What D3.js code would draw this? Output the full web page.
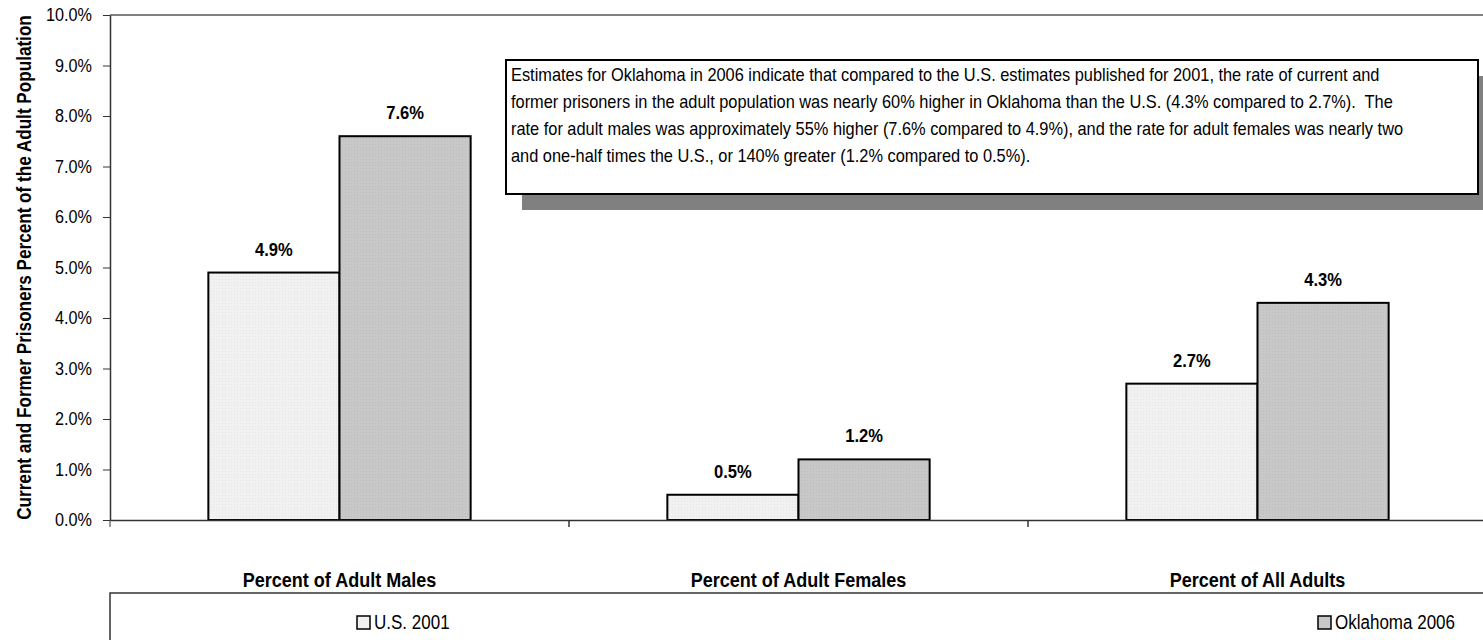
<!DOCTYPE html>
<html><head><meta charset="utf-8">
<script src="https://cdn.jsdelivr.net/npm/d3@7"></script>
<style>
body{margin:0;background:#fff;}
svg{display:block;font-family:"Liberation Sans Narrow","Arial Narrow","Liberation Sans",Arial,sans-serif;}
text{white-space:pre;}
</style></head>
<body><svg id="c" width="1483" height="640"></svg>
<script>
const categories = ["Percent of Adult Males","Percent of Adult Females","Percent of All Adults"];
const seriesNames = ["U.S. 2001","Oklahoma 2006"];
const us2001 = [4.9, 0.5, 2.7];
const oklahoma2006 = [7.6, 1.2, 4.3];
const yTicks = [0,1,2,3,4,5,6,7,8,9,10];
const yTitle = "Current and Former Prisoners Percent of the Adult Population";
const noteLines = [
 "Estimates for Oklahoma in 2006 indicate that compared to the U.S. estimates published for 2001, the rate of current and",
 "former prisoners in the adult population was nearly 60% higher in Oklahoma than the U.S. (4.3% compared to 2.7%).  The",
 "rate for adult males was approximately 55% higher (7.6% compared to 4.9%), and the rate for adult females was nearly two",
 "and one-half times the U.S., or 140% greater (1.2% compared to 0.5%)."
];
const colors = ["#f1f1f1","#c8c8c8"];

// emulate a condensed face by squeezing glyphs horizontally
function narrow(sel, f){
  sel.each(function(){
    const w = this.getComputedTextLength();
    d3.select(this).attr("textLength", w*f).attr("lengthAdjust","spacingAndGlyphs");
  });
}

const svg = d3.select("#c");
const L=110, R=1487, T=15, B=520;
const x = d3.scaleBand().domain(categories).range([L,R]).paddingInner(0).paddingOuter(0);
const x1 = d3.scaleBand().domain(seriesNames).range([0,x.bandwidth()]).paddingInner(0).paddingOuter(0.75);
const y = d3.scaleLinear().domain([0,10]).range([B,T]);

const defs = svg.append("defs");
["p0","p1"].forEach((id,i)=>{
  const p = defs.append("pattern").attr("id",id).attr("width",3).attr("height",3).attr("patternUnits","userSpaceOnUse");
  p.append("rect").attr("width",3).attr("height",3).attr("fill",colors[i]);
  p.append("rect").attr("width",1).attr("height",1).attr("fill",i? "#bcbcbc":"#e4e4e4");
});

// top border
svg.append("line").attr("x1",L).attr("x2",1483).attr("y1",T).attr("y2",T).attr("stroke","#808080").attr("stroke-width",2);

// y axis
const ya = svg.append("g").attr("transform",`translate(${L},0)`)
  .call(d3.axisLeft(y).tickValues(yTicks).tickFormat(d=>d.toFixed(1)+"%").tickSize(7).tickSizeOuter(0));
ya.select(".domain").attr("stroke","#333").attr("stroke-width",1.5);
ya.selectAll(".tick line").attr("stroke","#333");
ya.selectAll(".tick text").attr("font-size",18).attr("fill","#000").attr("x",-18).attr("font-family","inherit").call(narrow,0.9);

// bars
const data = categories.map((c,i)=>({c, vals:[us2001[i], oklahoma2006[i]]}));
const g = svg.append("g");
data.forEach(d=>{
  d.vals.forEach((v,j)=>{
    const bx = x(d.c)+x1(seriesNames[j]);
    g.append("rect").attr("x",bx).attr("y",y(v)).attr("width",x1.bandwidth()).attr("height",y(0)-y(v))
      .attr("fill",`url(#p${j})`).attr("stroke","#000").attr("stroke-width",2);
    g.append("text").attr("x",bx+x1.bandwidth()/2).attr("y",y(v)-17).attr("text-anchor","middle")
      .attr("font-size",18).attr("font-weight","bold").text(v.toFixed(1)+"%").call(narrow,0.92);
  });
});

// x axis
const xa = svg.append("g").attr("transform",`translate(0,${B})`)
  .call(d3.axisBottom(x).tickSize(0).tickSizeOuter(0));
xa.select(".domain").attr("stroke","#333").attr("stroke-width",1.5);
xa.selectAll(".tick text").attr("font-size",20).attr("font-weight","bold").attr("fill","#000").attr("dy",0).attr("y",67).attr("font-family","inherit").call(narrow,0.9);
// category separators
svg.selectAll(".sep").data(categories.slice(1)).join("line")
  .attr("x1",d=>x(d)).attr("x2",d=>x(d)).attr("y1",B).attr("y2",B+7).attr("stroke","#333").attr("stroke-width",1.5);
svg.append("line").attr("x1",L).attr("x2",L).attr("y1",B).attr("y2",B+7).attr("stroke","#333");

// y title (squeezed with a transform so its box stays inside the plot height)
const yt = svg.append("text").attr("text-anchor","middle")
  .attr("font-size",20).attr("font-weight","bold").text(yTitle);
const ytw = yt.node().getComputedTextLength();
yt.attr("transform",`translate(31,${(T+B)/2}) rotate(-90) scale(${(B-T)/ytw},1)`);

// annotation box
svg.append("rect").attr("x",522).attr("y",76).attr("width",980).attr("height",134).attr("fill","#808080");
svg.append("rect").attr("x",506).attr("y",60).attr("width",972).attr("height",134).attr("fill","#fff").attr("stroke","#000").attr("stroke-width",2);
svg.append("g").attr("transform","translate(511,0) scale(0.91,1)")
  .selectAll("text").data(noteLines).join("text")
  .attr("x",0).attr("y",(d,i)=>81+i*27).attr("font-size",18).text(d=>d);

// legend
svg.append("rect").attr("x",110).attr("y",593).attr("width",1400).attr("height",80).attr("fill","#fff").attr("stroke","#333").attr("stroke-width",1.5);
const legX = [357, 1318];
seriesNames.forEach((s,i)=>{
  svg.append("rect").attr("x",legX[i]).attr("y",616).attr("width",13).attr("height",13).attr("fill",colors[i]).attr("stroke","#000").attr("stroke-width",1.5);
  svg.append("text").attr("x",legX[i]+17).attr("y",629).attr("font-size",20).text(s).call(narrow,0.85);
});
</script></body></html>
